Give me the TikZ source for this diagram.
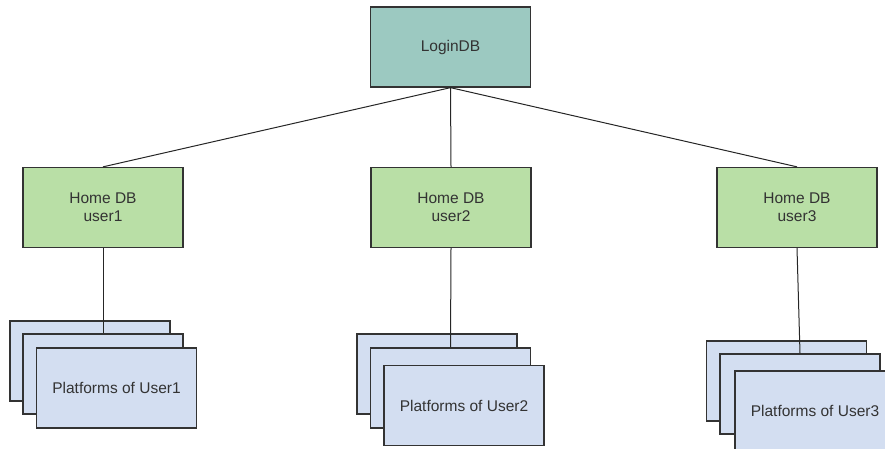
\documentclass[tikz,border=0pt]{standalone}
\usepackage{fontspec}
\setmainfont{Liberation Sans}
\begin{document}
\begin{tikzpicture}[x=1pt,y=-1pt,
  every node/.style={font=\fontsize{15.5}{18}\selectfont, text=black!80, align=center},
  box/.style={draw=black!80, line width=1.3pt, rectangle, inner sep=0pt,
    minimum width=160pt, minimum height=80pt},
  logindb/.style={box, fill=loginfill},
  homedb/.style={box, fill=homefill},
  platform/.style={box, fill=platfill},
  link/.style={draw=black!85, line width=1pt}]
\definecolor{loginfill}{HTML}{9CC9C1}
\definecolor{homefill}{HTML}{B9DFA6}
\definecolor{platfill}{HTML}{D3DEF1}
\useasboundingbox (0,0) rectangle (885,449);
\clip (0,0) rectangle (885,449);

% root database
\node[logindb] (login) at (450.5,47) {LoginDB};

% per-user home databases
\node[homedb] (h1) at (103,207.5) {Home DB\\user1};
\node[homedb] (h2) at (451,207.5) {Home DB\\user2};
\node[homedb] (h3) at (797,207.5) {Home DB\\user3};

% stacked platform cards, user 1
\node[platform] (b1) at (90,361) {};
\node[platform] (m1) at (103,374) {};
\node[platform] (f1) at (116.5,388) {Platforms of User1};

% stacked platform cards, user 2
\node[platform] (b2) at (437,374) {};
\node[platform] (m2) at (450.5,388) {};
\node[platform] (f2) at (464,405.5) {Platforms of User2};

% stacked platform cards, user 3
\node[platform] (b3) at (786.5,381) {};
\node[platform] (m3) at (800,394) {};
\node[platform] (f3) at (815,411) {Platforms of User3};

% connectors
\draw[link] (login.south) -- (h1.north);
\draw[link] (login.south) -- (h2.north);
\draw[link] (login.south) -- (h3.north);
\draw[link] (h1.south) -- (m1.north);
\draw[link] (h2.south) -- (m2.north);
\draw[link] (h3.south) -- (m3.north);
\end{tikzpicture}
\end{document}
